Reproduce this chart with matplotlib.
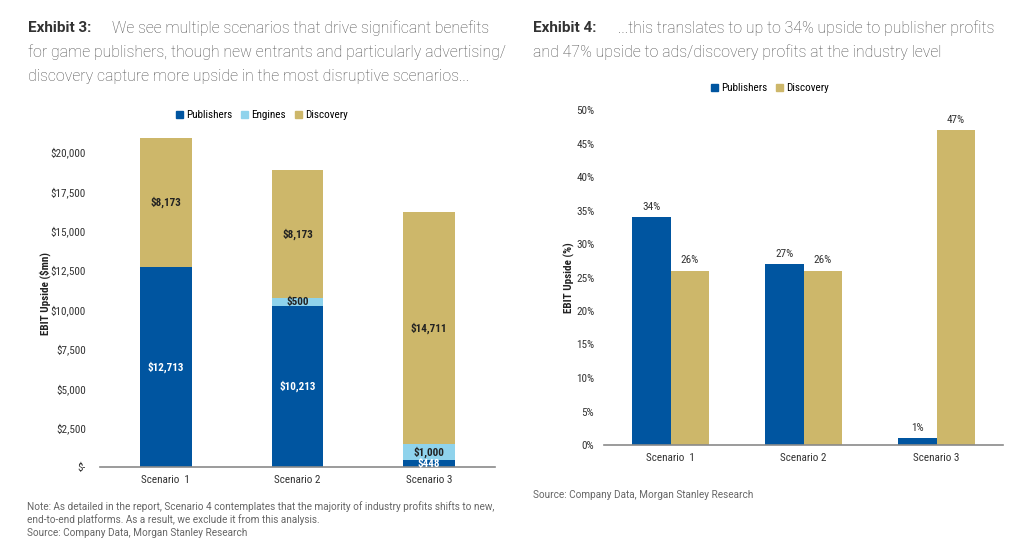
import matplotlib
matplotlib.use("Agg")
import matplotlib.pyplot as plt
import numpy as np
from matplotlib.patches import Patch
from matplotlib.ticker import FuncFormatter
from matplotlib import font_manager

scenarios = ["Scenario  1", "Scenario 2", "Scenario 3"]
publishers_mn = [12713, 10213, 448]
engines_mn = [0, 500, 1000]
discovery_mn = [8173, 8173, 14711]
yticks_mn = [0, 2500, 5000, 7500, 10000, 12500, 15000, 17500, 20000]

publishers_pct = [0.34, 0.27, 0.01]
discovery_pct = [0.26, 0.26, 0.47]
yticks_pct = [0, 0.05, 0.10, 0.15, 0.20, 0.25, 0.30, 0.35, 0.40, 0.45, 0.50]

BLUE = "#0055A0"
LIGHT = "#8FD3EC"
GOLD = "#CDB76A"
AXC = "#8a8a8a"

# narrow font for the chart text if there is one
installed = {f.name for f in font_manager.fontManager.ttflist}
COND = [f for f in ["Roboto Condensed", "Liberation Sans Narrow"] if f in installed] + ["Roboto", "DejaVu Sans"]
narrow = COND[0] != "Roboto"
CS = 8 if narrow else 7

plt.rcParams["font.family"] = ["Roboto", "DejaVu Sans"]

fig = plt.figure(figsize=(10.24, 5.56), dpi=100)
W, H = 1024, 556


def fx(px):
    return px / W


def fy(py):
    return 1 - py / H


TS = 11.4
TC = "#4f4f4f"
TW = "light"
# titles
fig.text(fx(28), fy(28), "Exhibit 3:", fontsize=11, fontweight="bold", color="#333333", va="center")
fig.text(fx(112), fy(28), "We see multiple scenarios that drive significant benefits",
         fontsize=TS, color=TC, va="center", fontweight=TW)
fig.text(fx(28), fy(52), "for game publishers, though new entrants and particularly advertising/",
         fontsize=TS, color=TC, va="center", fontweight=TW)
fig.text(fx(28), fy(76), "discovery capture more upside in the most disruptive scenarios...",
         fontsize=TS, color=TC, va="center", fontweight=TW)

fig.text(fx(533), fy(28), "Exhibit 4:", fontsize=11, fontweight="bold", color="#333333", va="center")
fig.text(fx(618), fy(28), "...this translates to up to 34% upside to publisher profits",
         fontsize=TS, color=TC, va="center", fontweight=TW)
fig.text(fx(533), fy(52), "and 47% upside to ads/discovery profits at the industry level",
         fontsize=TS, color=TC, va="center", fontweight=TW)

# notes
NS = 7.2
fig.text(fx(27), fy(507), "Note: As detailed in the report, Scenario 4 contemplates that the majority of industry profits shifts to new,",
         fontsize=NS, color="#666666", va="center")
fig.text(fx(27), fy(520), "end-to-end platforms. As a result, we exclude it from this analysis.",
         fontsize=NS, color="#666666", va="center")
fig.text(fx(27), fy(533), "Source: Company Data, Morgan Stanley Research",
         fontsize=NS, color="#666666", va="center")
fig.text(fx(533), fy(495), "Source: Company Data, Morgan Stanley Research",
         fontsize=NS, color="#666666", va="center")


def style(ax):
    for s in ["top", "right", "left"]:
        ax.spines[s].set_visible(False)
    ax.spines["bottom"].set_color(AXC)
    ax.spines["bottom"].set_linewidth(1.2)
    ax.tick_params(length=0, labelsize=CS, colors="#333333")
    for lab in ax.get_xticklabels() + ax.get_yticklabels():
        lab.set_family(COND)


# left chart
x = np.arange(len(scenarios))
ymax1 = 22000
ax1 = fig.add_axes([fx(100), fy(467), fx(495) - fx(100), 315 * ymax1 / 20000 / H])
w1 = 0.39
pub = np.array(publishers_mn)
eng = np.array(engines_mn)
dis = np.array(discovery_mn)
ax1.bar(x, pub, w1, color=BLUE)
ax1.bar(x, eng, w1, bottom=pub, color=LIGHT)
ax1.bar(x, dis, w1, bottom=pub + eng, color=GOLD)
ax1.set_xlim(-0.5, 2.5)
ax1.set_ylim(0, ymax1)
ax1.set_yticks(yticks_mn)
ax1.yaxis.set_major_formatter(FuncFormatter(lambda v, p: "$-" if v == 0 else f"${v:,.0f}"))
ax1.set_xticks(x)
ax1.set_xticklabels(scenarios)
ax1.tick_params(axis="y", pad=10)
ax1.tick_params(axis="x", pad=6)
style(ax1)
ax1.set_ylabel("EBIT Upside ($mn)", fontsize=CS, fontweight="bold", color="#222222",
               family=COND, labelpad=0)
for i in range(len(x)):
    ax1.text(x[i], pub[i] / 2, f"${pub[i]:,}", ha="center", va="center", color="white",
             fontsize=CS, fontweight="bold", family=COND)
    if eng[i] > 0:
        ax1.text(x[i], pub[i] + eng[i] / 2, f"${eng[i]:,}", ha="center", va="center",
                 color="#222222", fontsize=CS, fontweight="bold", family=COND)
    ax1.text(x[i], pub[i] + eng[i] + dis[i] / 2, f"${dis[i]:,}", ha="center", va="center",
             color="#222222", fontsize=CS, fontweight="bold", family=COND)
fig.legend(handles=[Patch(color=BLUE, label="Publishers"), Patch(color=LIGHT, label="Engines"),
                    Patch(color=GOLD, label="Discovery")],
           loc="center", bbox_to_anchor=(fx(262), fy(115)), ncol=3, frameon=False,
           handlelength=0.6, handleheight=0.6, handletextpad=0.3, columnspacing=0.8,
           prop={"family": COND, "size": CS})

# right chart
ax2 = fig.add_axes([fx(604), fy(445), fx(1003) - fx(604), 335 / H])
w2 = 0.286
pp = np.array(publishers_pct)
dp = np.array(discovery_pct)
ax2.bar(x - w2 / 2, pp, w2, color=BLUE)
ax2.bar(x + w2 / 2, dp, w2, color=GOLD)
ax2.set_xlim(-0.5, 2.5)
ax2.set_ylim(0, 0.5)
ax2.set_yticks(yticks_pct)
ax2.yaxis.set_major_formatter(FuncFormatter(lambda v, p: f"{v * 100:.0f}%"))
ax2.set_xticks(x)
ax2.set_xticklabels(scenarios)
ax2.tick_params(axis="y", pad=7)
ax2.tick_params(axis="x", pad=6)
style(ax2)
ax2.set_ylabel("EBIT Upside (%)", fontsize=CS, fontweight="bold", color="#222222",
               family=COND, labelpad=1)
for i in range(len(x)):
    ax2.text(x[i] - w2 / 2, pp[i] + 0.008, f"{pp[i] * 100:.0f}%", ha="center", va="bottom",
             color="#333333", fontsize=CS, family=COND, clip_on=False)
    ax2.text(x[i] + w2 / 2, dp[i] + 0.008, f"{dp[i] * 100:.0f}%", ha="center", va="bottom",
             color="#333333", fontsize=CS, family=COND, clip_on=False)
fig.legend(handles=[Patch(color=BLUE, label="Publishers"), Patch(color=GOLD, label="Discovery")],
           loc="center", bbox_to_anchor=(fx(770), fy(88)), ncol=2, frameon=False,
           handlelength=0.6, handleheight=0.6, handletextpad=0.3, columnspacing=0.8,
           prop={"family": COND, "size": CS})

fig.savefig("out.png", dpi=100)
